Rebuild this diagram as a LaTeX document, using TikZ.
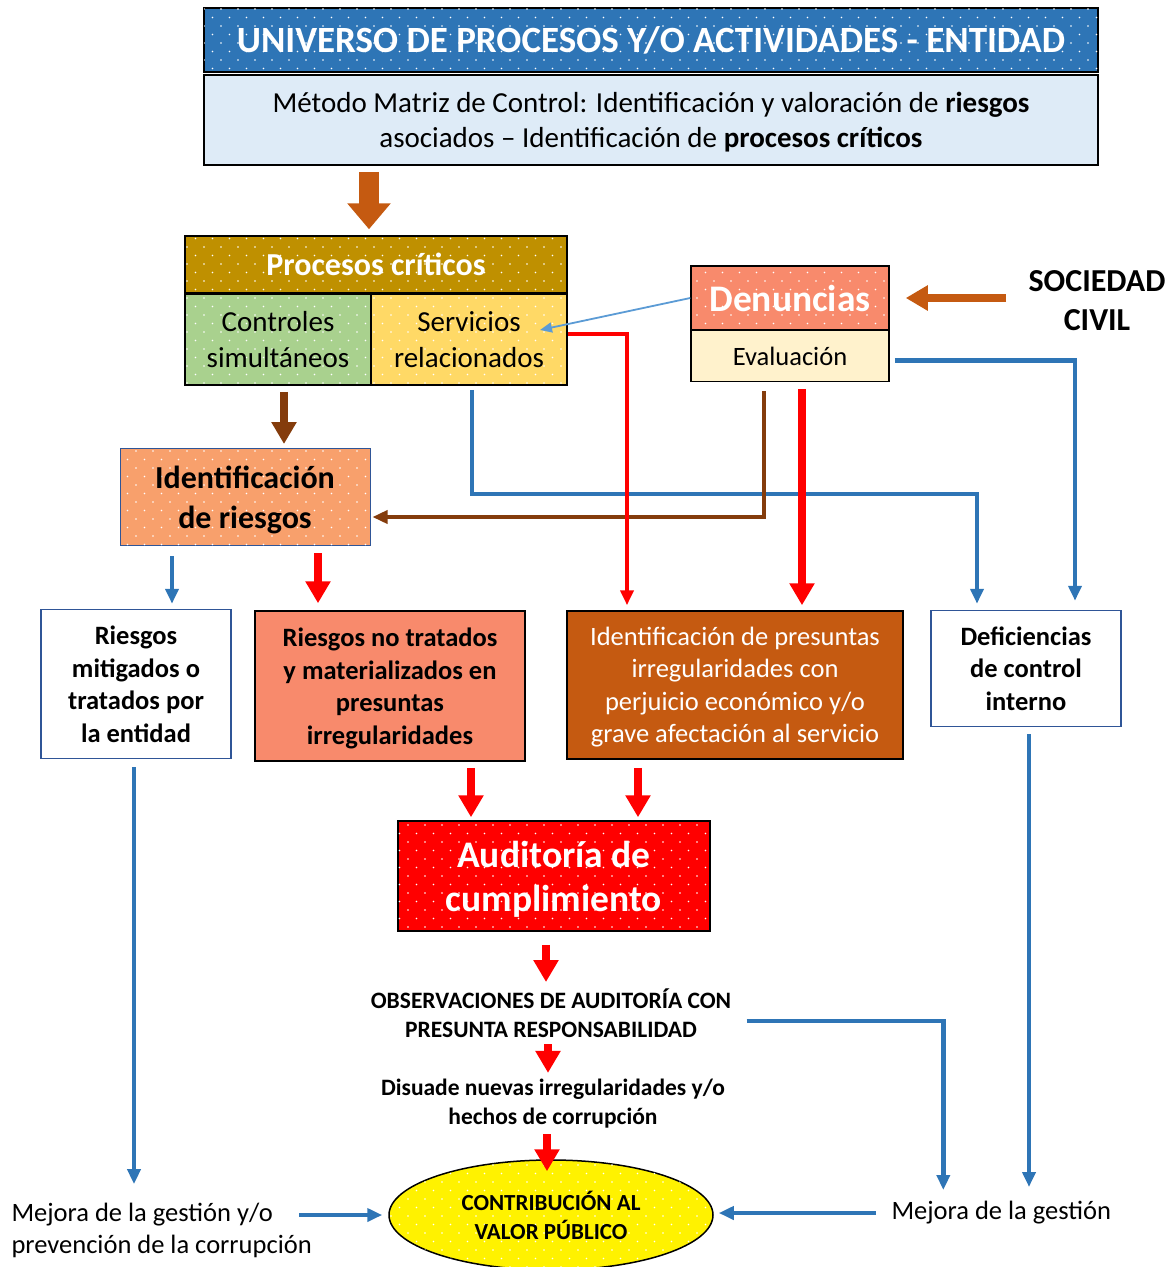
\documentclass[tikz,border=0pt]{standalone}
\usepackage{fontspec}
\setmainfont{Carlito}
\usetikzlibrary{arrows.meta,shapes.geometric,patterns}

\definecolor{azultitulo}{HTML}{2E75B6}
\definecolor{azulclaro}{HTML}{DEEBF7}
\definecolor{azulfino}{HTML}{5B9BD5}
\definecolor{azulborde}{HTML}{2F5597}
\definecolor{dorado}{HTML}{BF9000}
\definecolor{verde}{HTML}{A9D18E}
\definecolor{amarillo}{HTML}{FFD966}
\definecolor{salmon}{HTML}{F88A6C}
\definecolor{crema}{HTML}{FFF2CC}
\definecolor{naranja}{HTML}{C55A11}
\definecolor{naranjaclaro}{HTML}{F8A06C}
\definecolor{marron}{HTML}{843C0C}
\definecolor{rojo}{HTML}{FF0000}

\pgfdeclarepatternformonly{puntos}{\pgfqpoint{-1.5pt}{-1.5pt}}{\pgfqpoint{10pt}{10pt}}{\pgfqpoint{17pt}{17pt}}{%
  \pgfpathcircle{\pgfqpoint{0pt}{0pt}}{0.85pt}%
  \pgfpathcircle{\pgfqpoint{8.5pt}{8.5pt}}{0.85pt}%
  \pgfusepath{fill}}

\tikzset{
  caja/.style={draw=black, line width=1.5pt, align=center, inner sep=0pt, text depth=0pt},
  punteado/.style={postaction={pattern=puntos, pattern color=white}},
  enorme/.style={line width=20pt, -{Triangle[length=26pt,width=42pt]}},
  gruesa/.style={line width=8pt, -{Triangle[length=22pt,width=24pt]}},
  fina/.style={line width=4.5pt, -{Triangle[length=15pt,width=13pt]}},
  hilo/.style={line width=1.8pt, -{Triangle[length=12pt,width=10pt]}}
}

\begin{document}
\begin{tikzpicture}[x=1pt,y=-1pt]
    \useasboundingbox (0,0) rectangle (1174,1267);

    \node[caja, fill=azultitulo, punteado, minimum width=894pt, minimum height=64pt, text=white, font=\fontsize{37}{40}\selectfont\bfseries] at (651,40) (universo) {UNIVERSO DE PROCESOS Y/O ACTIVIDADES - ENTIDAD};
    \node[caja, fill=azulclaro, minimum width=894pt, minimum height=90pt, font=\fontsize{29}{35}\selectfont] at (651,120) (metodo) {Método Matriz de Control: Identificación y valoración de \textbf{riesgos}\\asociados -- Identificación de \textbf{procesos críticos}};

    \node[caja, fill=dorado, punteado, minimum width=382pt, minimum height=57pt, text=white, font=\fontsize{32}{36}\selectfont\bfseries] at (376,264.5) (criticos) {Procesos críticos};
    \node[caja, fill=verde, punteado, minimum width=186pt, minimum height=91pt, font=\fontsize{29}{36}\selectfont] at (278,339.5) (controles) {Controles\\simultáneos};
    \node[caja, fill=amarillo, punteado, minimum width=196pt, minimum height=91pt, font=\fontsize{29}{36}\selectfont] at (469,339.5) (servicios) {Servicios\\relacionados};

    \node[caja, fill=salmon, punteado, minimum width=198pt, minimum height=64pt, text=white, font=\fontsize{37.5}{40}\selectfont\bfseries] at (790,298) (denuncias) {Denuncias};
    \node[caja, fill=crema, minimum width=198pt, minimum height=51pt, font=\fontsize{26.5}{30}\selectfont] at (790,356) (evaluacion) {Evaluación};
    \node[align=center, font=\fontsize{32}{39}\selectfont\bfseries] at (1097,301) (sociedad) {SOCIEDAD\\CIVIL};

    \node[caja, draw=azulborde, line width=1pt, fill=naranjaclaro, punteado, minimum width=250pt, minimum height=97pt, font=\fontsize{32}{40}\selectfont\bfseries] at (245,497) (riesgos) {Identificación\\de riesgos};

    \node[caja, draw=azulborde, fill=white, minimum width=190pt, minimum height=149pt, font=\fontsize{26.5}{32.5}\selectfont\bfseries] at (136,684) (mitigados) {Riesgos\\mitigados o\\tratados por\\la entidad};
    \node[caja, fill=salmon, minimum width=270pt, minimum height=150pt, font=\fontsize{26.5}{32.5}\selectfont\bfseries] at (390,686) (notratados) {Riesgos no tratados\\y materializados en\\presuntas\\irregularidades};
    \node[caja, fill=naranja, minimum width=336pt, minimum height=148pt, text=white, font=\fontsize{26.5}{32.5}\selectfont] at (735,685) (presuntas) {Identificación de presuntas\\irregularidades con\\perjuicio económico y/o\\grave afectación al servicio};
    \node[caja, draw=azulborde, fill=white, minimum width=190pt, minimum height=116pt, font=\fontsize{26.5}{32.5}\selectfont\bfseries] at (1026,668.5) (deficiencias) {Deficiencias\\de control\\interno};

    \node[caja, fill=rojo, punteado, minimum width=312pt, minimum height=110pt, text=white, font=\fontsize{37.5}{44}\selectfont\bfseries] at (554,876) (auditoria) {Auditoría de\\cumplimiento};

    \node[align=center, font=\fontsize{23.5}{29}\selectfont\bfseries] at (551,1013) (observaciones) {OBSERVACIONES DE AUDITORÍA CON\\PRESUNTA RESPONSABILIDAD};
    \node[align=center, font=\fontsize{23.5}{29}\selectfont\bfseries] at (553,1104) (disuade) {Disuade nuevas irregularidades y/o\\hechos de corrupción};

    \node[ellipse, draw=black, line width=1.5pt, fill=yellow, punteado, minimum width=324pt, minimum height=110pt, inner sep=0pt, align=center, font=\fontsize{23}{29}\selectfont\bfseries] at (551,1215) (valor) {CONTRIBUCIÓN AL\\VALOR PÚBLICO};
    \node[anchor=west, align=left, font=\fontsize{26.5}{32}\selectfont] at (8,1230) (mejoraizq) {Mejora de la gestión y/o\\prevención de la corrupción};
    \node[anchor=west, align=left, font=\fontsize{26.5}{32}\selectfont] at (888,1213) (mejorader) {Mejora de la gestión};

    \draw[enorme, naranja, shorten <=6pt, shorten >=6pt] (metodo.south -| 369,0) -- (criticos.north -| 369,0);
    \draw[gruesa, naranja, shorten <=19pt, shorten >=16pt] (sociedad.west |- denuncias.east) -- (denuncias.east);
    \draw[hilo, azulfino] (denuncias.west) -- ([shift={(71,-9.5)}]servicios.center);
    \draw[gruesa, marron, shorten <=6pt, shorten >=4pt] ([xshift=6pt]controles.south) -- ([xshift=6pt]controles.south |- riesgos.north);

    \draw[fina, azultitulo, shorten <=4pt, shorten >=6pt] ([xshift=3pt]servicios.south) -- ++(0,108) -| ([xshift=-49pt]deficiencias.north);
    \draw[fina, marron, line width=3.5pt, shorten <=9pt, shorten >=2pt] ([xshift=-26pt]evaluacion.south) |- ([yshift=-20pt]riesgos.east);
    \draw[fina, rojo, shorten >=5pt] ([yshift=5.5pt]servicios.east) -| ([xshift=-108pt]presuntas.north);
    \draw[gruesa, rojo, shorten <=7pt, shorten >=5pt] ([xshift=12pt]evaluacion.south) -- ([xshift=12pt]evaluacion.south |- presuntas.north);
    \draw[fina, azultitulo, shorten <=5pt, shorten >=9pt] ([yshift=-4.5pt]evaluacion.east) -| ([xshift=49pt]deficiencias.north);

    \draw[fina, azultitulo, shorten <=10pt, shorten >=5pt] ([xshift=-73pt]riesgos.south) -- ([xshift=-73pt]riesgos.south |- mitigados.north);
    \draw[gruesa, rojo, shorten <=7pt, shorten >=7pt] ([xshift=73pt]riesgos.south) -- ([xshift=73pt]riesgos.south |- notratados.north);

    \draw[gruesa, rojo, shorten <=6pt, shorten >=3pt] ([xshift=-83pt]auditoria.north |- notratados.south) -- ([xshift=-83pt]auditoria.north);
    \draw[gruesa, rojo, shorten <=8pt, shorten >=3pt] ([xshift=84pt]auditoria.north |- presuntas.south) -- ([xshift=84pt]auditoria.north);
    \draw[gruesa, rojo, shorten <=13pt, shorten >=3pt] ([xshift=-8pt]auditoria.south) -- ([xshift=-8pt]auditoria.south |- observaciones.north);
    \draw[gruesa, rojo, shorten <=3pt, shorten >=3pt] ([xshift=-3pt]observaciones.south) -- ([xshift=-3pt]observaciones.south |- disuade.north);
    \draw[gruesa, rojo, shorten <=2pt, shorten >=-12pt] ([xshift=-6pt]disuade.south) -- ([xshift=-6pt]disuade.south |- valor.north);

    \draw[fina, azultitulo, shorten <=8pt, shorten >=15pt] ([xshift=-2pt]mitigados.south) -- ([xshift=-2pt]mitigados.south |- mejoraizq.north);
    \draw[fina, azultitulo, shorten <=-16pt, shorten >=6pt] (mejoraizq.east |- valor.west) -- (valor.west);
    \draw[fina, azultitulo, shorten <=12pt, shorten >=5pt] (mejorader.west) -- (mejorader.west -| valor.east);
    \draw[fina, azultitulo, shorten <=12pt, shorten >=8pt] ([yshift=-8pt]observaciones.east) -| ([xshift=-58pt]mejorader.north);
    \draw[fina, azultitulo, shorten <=7pt, shorten >=11pt] ([xshift=3pt]deficiencias.south) -- ([xshift=3pt]deficiencias.south |- mejorader.north);
\end{tikzpicture}
\end{document}
